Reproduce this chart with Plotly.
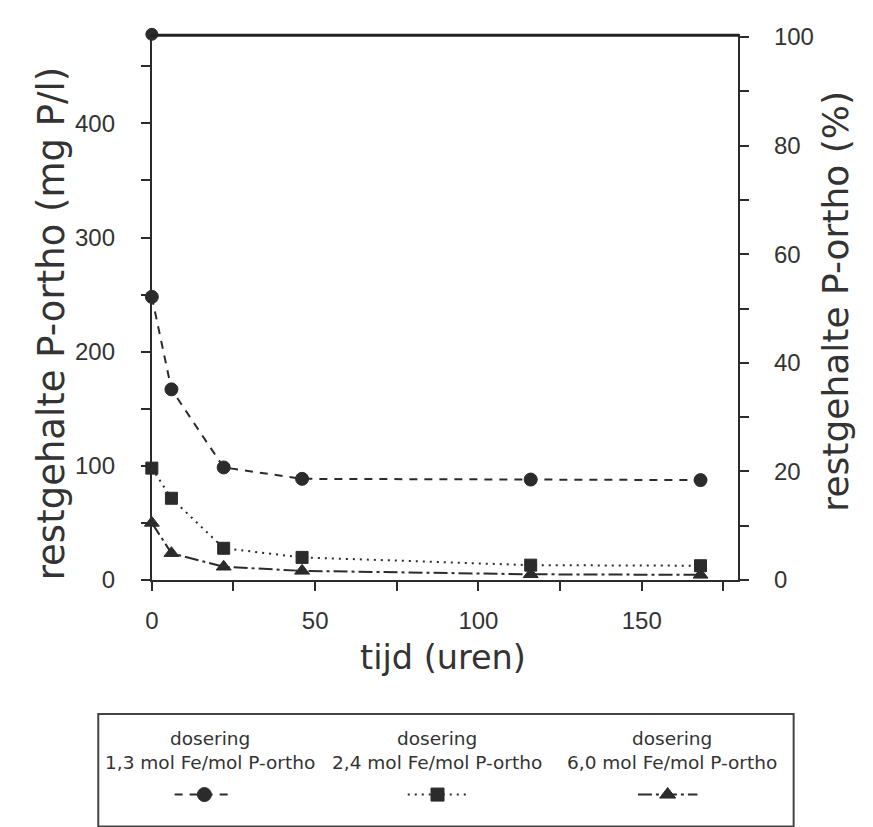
import plotly.graph_objects as go

# --- data -------------------------------------------------------------
tijd = [0, 6, 22, 46, 116, 168]                     # hours
p_13 = [248, 167, 98.6, 88.6, 88, 87.5]             # 1,3 mol Fe/mol P-ortho
p_24 = [98, 71.6, 27.8, 19.8, 13, 12.5]             # 2,4 mol Fe/mol P-ortho
p_60 = [50, 23.5, 11.6, 8, 5, 4.5]                  # 6,0 mol Fe/mol P-ortho
begin_tijd = [0]
begin_p = [478]                                      # starting concentration (100 %)

series_names = ["1,3 mol Fe/mol P-ortho", "2,4 mol Fe/mol P-ortho", "6,0 mol Fe/mol P-ortho"]
x_ticks = [0, 50, 100, 150]
y_ticks = [0, 100, 200, 300, 400]
pct_ticks = [0, 20, 40, 60, 80, 100]

# --- layout helpers (pixel geometry of an 873 x 827 page) -------------
W, H = 873, 827
PL, PR, PT, PB = 146, 737, 24, 586                   # plot area edges
Y_MAX = 478
PCT_MAX = 100.5
INK = "#2b2b2b"
TICKFONT = dict(family="Liberation Sans, Arial, sans-serif", size=24, color="#333")
TEXTFONT = "DejaVu Sans, sans-serif"


def px(x):
    return x / W


def py(y):
    return (H - y) / H


styles = [
    dict(dash="8px,7px", symbol="circle", size=13),
    dict(dash="2px,5px", symbol="square", size=12),
    dict(dash="14px,4px,3px,4px", symbol="triangle-up", size=13),
]
values = [p_13, p_24, p_60]

fig = go.Figure()

for vals, st, name in zip(values, styles, series_names):
    fig.add_trace(go.Scatter(
        x=tijd, y=vals, mode="lines+markers", name=name,
        line=dict(color=INK, width=2, dash=st["dash"]),
        marker=dict(symbol=st["symbol"], size=st["size"], color=INK,
                    line=dict(color=INK, width=1)),
        cliponaxis=False, showlegend=False,
    ))

fig.add_trace(go.Scatter(
    x=begin_tijd, y=begin_p, mode="markers",
    marker=dict(symbol="circle", size=12, color=INK, line=dict(color=INK, width=1)),
    cliponaxis=False, showlegend=False,
))

# hidden percentage axis trace so the right axis is drawn
fig.add_trace(go.Scatter(x=[None], y=[None], yaxis="y2", showlegend=False))

# --- legend box drawn below the chart ---------------------------------
key_cx = [199, 434, 666]       # key symbol centres (px)
text_cx = [205, 433, 670]      # column text centres (px)
key_y = 807
key_half = 30
for cx, st in zip(key_cx, styles):
    fig.add_trace(go.Scatter(
        x=[cx - key_half, cx + key_half], y=[key_y, key_y],
        xaxis="x3", yaxis="y3", mode="lines",
        line=dict(color=INK, width=2, dash=st["dash"]),
        cliponaxis=False, showlegend=False,
    ))
    fig.add_trace(go.Scatter(
        x=[cx], y=[key_y], xaxis="x3", yaxis="y3", mode="markers",
        marker=dict(symbol=st["symbol"], size=st["size"] + 1, color=INK,
                    line=dict(color=INK, width=1)),
        cliponaxis=False, showlegend=False,
    ))

annotations = []
for cx, name in zip(text_cx, series_names):
    annotations.append(dict(
        x=px(cx), y=py(762), xref="paper", yref="paper",
        text="dosering<br>" + name, showarrow=False,
        xanchor="center", yanchor="middle", align="center",
        font=dict(family=TEXTFONT, size=18.5, color="#333"),
    ))

annotations += [
    dict(x=px(440), y=py(666), xref="paper", yref="paper", text="tijd (uren)",
         showarrow=False, xanchor="center", yanchor="middle",
         font=dict(family=TEXTFONT, size=33.5, color="#333")),
    dict(x=px(45), y=py(322), xref="paper", yref="paper",
         text="restgehalte P-ortho (mg P/l)", textangle=-90,
         showarrow=False, xanchor="center", yanchor="middle",
         font=dict(family=TEXTFONT, size=37, color="#333")),
    dict(x=px(835), y=py(299), xref="paper", yref="paper",
         text="restgehalte P-ortho (%)", textangle=-90,
         showarrow=False, xanchor="center", yanchor="middle",
         font=dict(family=TEXTFONT, size=36, color="#333")),
]

shapes = [
    # legend frame (open at the bottom edge of the page)
    dict(type="rect", xref="paper", yref="paper",
         x0=px(92), x1=px(793), y0=py(840), y1=py(724),
         line=dict(color="#444", width=2), fillcolor="rgba(0,0,0,0)"),
    # top edge of the plot frame
    dict(type="line", xref="paper", yref="paper",
         x0=px(PL - 1), x1=px(PR + 1), y0=py(PT + 1), y1=py(PT + 1),
         line=dict(color="#222", width=3), layer="above"),
]

axis_common = dict(
    showgrid=False, zeroline=False, showline=True, linecolor=INK, linewidth=2,
    ticks="outside", ticklen=9, tickwidth=2, tickcolor=INK, tickfont=TICKFONT,
)
minor_common = dict(ticks="outside", ticklen=9, tickwidth=2, tickcolor=INK)

fig.update_layout(
    width=W, height=H,
    margin=dict(l=0, r=0, t=0, b=0),
    paper_bgcolor="white", plot_bgcolor="white",
    showlegend=False,
    xaxis=dict(
        domain=[px(PL), px(PR)], range=[0, 179.5],
        tickvals=x_ticks, minor=dict(dtick=25, **minor_common),
        ticklabelstandoff=9, anchor="y", **axis_common,
    ),
    yaxis=dict(
        domain=[py(PB), py(PT)], range=[0, Y_MAX],
        tickvals=y_ticks, minor=dict(dtick=50, **minor_common),
        ticklabelstandoff=21, anchor="x", **axis_common,
    ),
    yaxis2=dict(
        overlaying="y", side="right", range=[0, PCT_MAX], anchor="x",
        tickvals=pct_ticks, minor=dict(dtick=10, **minor_common),
        ticklabelstandoff=20, **axis_common,
    ),
    xaxis3=dict(domain=[0, 1], range=[0, W], visible=False, anchor="y3", fixedrange=True),
    yaxis3=dict(domain=[0, py(700)], range=[H, 700], visible=False, anchor="x3", fixedrange=True),
    annotations=annotations,
    shapes=shapes,
)

fig.write_html("out.html")
